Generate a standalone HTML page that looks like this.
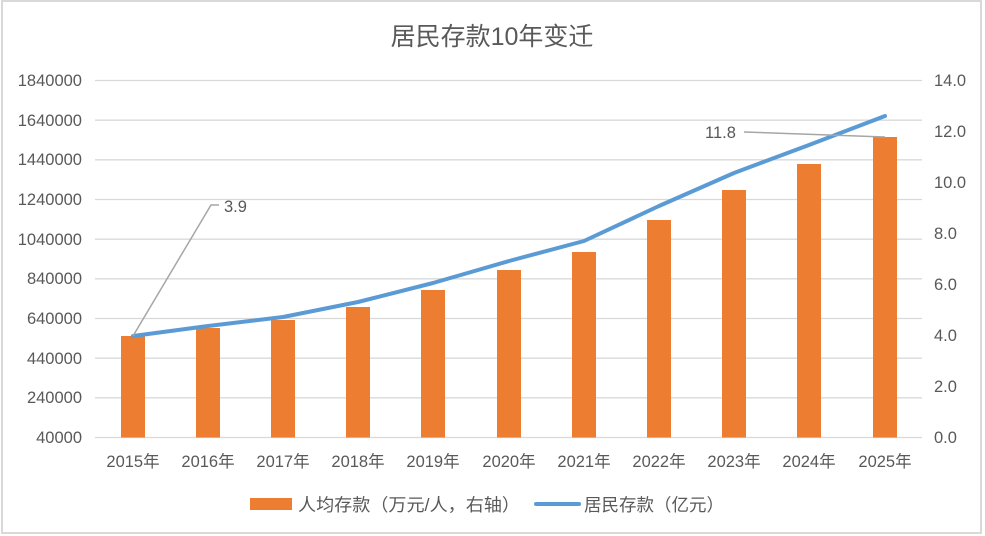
<!DOCTYPE html>
<html><head><meta charset="utf-8"><style>
html,body{margin:0;padding:0;background:#fff}
svg{display:block}
text{font-family:"Liberation Sans","Noto Sans CJK SC",sans-serif;fill:#595959}
</style></head><body>
<svg width="985" height="536" viewBox="0 0 985 536">
<rect x="2" y="1" width="979" height="532" fill="#fff" stroke="#d9d9d9" stroke-width="2"/>
<text x="492" y="45" font-size="25" text-anchor="middle" fill="#595959">居民存款10年变迁</text>
<g stroke="#d9d9d9" stroke-width="1.3">
<line x1="95" x2="922" y1="80.5" y2="80.5"/><line x1="95" x2="922" y1="120.2" y2="120.2"/>
<line x1="95" x2="922" y1="159.8" y2="159.8"/><line x1="95" x2="922" y1="199.5" y2="199.5"/>
<line x1="95" x2="922" y1="239.2" y2="239.2"/><line x1="95" x2="922" y1="278.8" y2="278.8"/>
<line x1="95" x2="922" y1="318.5" y2="318.5"/><line x1="95" x2="922" y1="358.2" y2="358.2"/>
<line x1="95" x2="922" y1="397.8" y2="397.8"/><line x1="95" x2="922" y1="437.5" y2="437.5"/>
</g>
<g font-size="16.5" text-anchor="end">
<text x="82" y="86">1840000</text><text x="82" y="126">1640000</text><text x="82" y="165">1440000</text>
<text x="82" y="205">1240000</text><text x="82" y="245">1040000</text><text x="82" y="284">840000</text>
<text x="82" y="324">640000</text><text x="82" y="364">440000</text><text x="82" y="403">240000</text>
<text x="82" y="443">40000</text>
</g>
<g font-size="16.5" text-anchor="start">
<text x="934" y="86">14.0</text><text x="934" y="137">12.0</text><text x="934" y="188">10.0</text>
<text x="934" y="239">8.0</text><text x="934" y="290">6.0</text><text x="934" y="341">4.0</text>
<text x="934" y="392">2.0</text><text x="934" y="443">0.0</text>
</g>
<g fill="#ed7d31">
<rect x="121" y="336" width="24" height="101.5"/><rect x="196" y="328" width="24" height="109.5"/>
<rect x="271" y="320" width="24" height="117.5"/><rect x="346" y="307" width="24" height="130.5"/>
<rect x="421" y="290" width="24" height="147.5"/><rect x="497" y="270" width="24" height="167.5"/>
<rect x="572" y="252" width="24" height="185.5"/><rect x="647" y="220" width="24" height="217.5"/>
<rect x="722" y="190" width="24" height="247.5"/><rect x="797" y="164" width="24" height="273.5"/>
<rect x="873" y="137" width="24" height="300.5"/>
</g>
<polyline fill="none" stroke="#5b9bd5" stroke-width="4" stroke-linecap="round" stroke-linejoin="round"
points="133,336 208,326 283,317 358,302 433,283 509,261 584,241 659,206 734,173 809,145 885,116"/>
<polyline fill="none" stroke="#a6a6a6" stroke-width="1.5" points="133,336 211,205 219,205"/>
<text x="224" y="212" font-size="16.5" fill="#404040">3.9</text>
<polyline fill="none" stroke="#a6a6a6" stroke-width="1.5" points="744,132 885,137"/>
<text x="705" y="138" font-size="16.5" fill="#404040">11.8</text>
<g font-size="16.5" text-anchor="middle">
<text x="133" y="467">2015年</text><text x="208" y="467">2016年</text><text x="283" y="467">2017年</text>
<text x="358" y="467">2018年</text><text x="433" y="467">2019年</text><text x="509" y="467">2020年</text>
<text x="584" y="467">2021年</text><text x="659" y="467">2022年</text><text x="734" y="467">2023年</text>
<text x="809" y="467">2024年</text><text x="885" y="467">2025年</text>
</g>
<rect x="250" y="498" width="42" height="12" fill="#ed7d31"/>
<text x="298" y="511" font-size="17.5" textLength="222" lengthAdjust="spacingAndGlyphs">人均存款（万元/人，右轴）</text>
<line x1="536" x2="579" y1="504" y2="504" stroke="#5b9bd5" stroke-width="4" stroke-linecap="round"/>
<text x="584" y="511" font-size="17.5" textLength="140" lengthAdjust="spacingAndGlyphs">居民存款（亿元）</text>
</svg>
</body></html>
